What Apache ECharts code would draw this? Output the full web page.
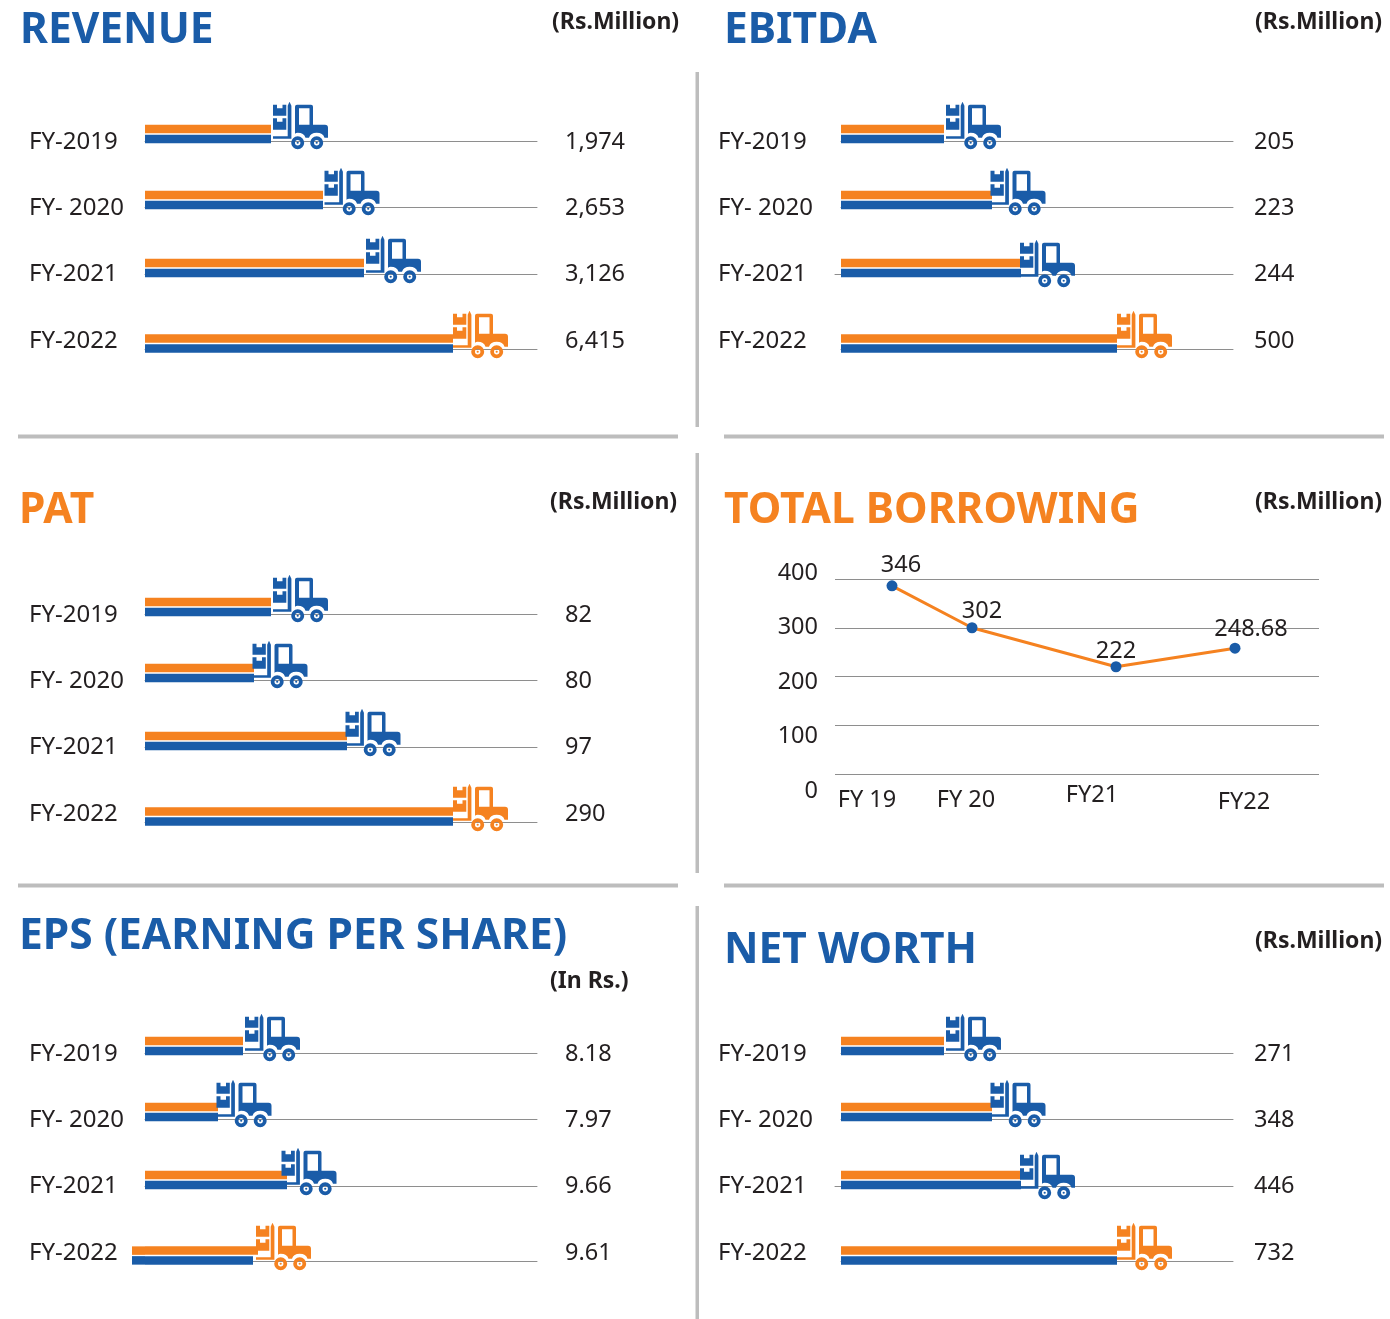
<!DOCTYPE html>
<html>
<head>
<meta charset="utf-8">
<title>Financial highlights</title>
<style>
  html, body { margin: 0; padding: 0; background: #fff; }
  #main { width: 1390px; height: 1319px; }
</style>
<script src="https://cdn.jsdelivr.net/npm/echarts@6/dist/echarts.min.js"></script>
</head>
<body>
<div id="main"></div>
<script>
// row labels and printed figures
const years = ['FY-2019', 'FY- 2020', 'FY-2021', 'FY-2022']
const revenueLabels = ['1,974', '2,653', '3,126', '6,415']
const ebitdaLabels = ['205', '223', '244', '500']
const patLabels = ['82', '80', '97', '290']
const epsLabels = ['8.18', '7.97', '9.66', '9.61']
const netWorthLabels = ['271', '348', '446', '732']

// bar lengths as drawn in the picture (they are not in proportion to the figures)
const revenueOrange = [126, 178, 219, 308]
const revenueBlue = [126, 178, 219, 308]
const ebitdaOrange = [103, 151, 180, 276]
const ebitdaBlue = [103, 151, 180, 276]
const patOrange = [126, 109, 202, 308]
const patBlue = [126, 109, 202, 308]
const epsOrange = [98, 73, 142, 113]
const epsBlue = [98, 73, 142, 108]
const epsTail = [0, 0, 0, -13]
const netWorthOrange = [103, 151, 180, 276]
const netWorthBlue = [103, 151, 180, 276]

// total borrowing
const borrowingTicks = ['FY 19', 'FY 20', 'FY21', 'FY22']
const borrowingTickAt = [32, 131, 257, 409]
const borrowingAt = [57, 137, 281, 400]
const borrowingDrawn = [386, 300, 220, 258]
const borrowingLabels = ['346', '302', '222', '248.68']

const BLUE = '#1a5ca8'
const ORANGE = '#f58220'
const INK = '#231f20'
const RULE = '#8e8e8e'
const DIVIDER = '#bdbdbd'
const FONT = '"Noto Sans", sans-serif'

function circle(cx, cy, r, sweep) {
  return `M${cx - r} ${cy}A${r} ${r} 0 1 ${sweep} ${cx + r} ${cy}A${r} ${r} 0 1 ${sweep} ${cx - r} ${cy}Z`
}
function wheel(cx) {
  return circle(cx, 41, 6.5, 1) + circle(cx, 41, 2.7, 0) + circle(cx, 41, 1.1, 1)
}
// forklift icon, 55 x 47.5
const truck = 'path://' +
  'M0 3L4 3L4 6.5L9.5 6.5L9.5 3L13.3 3L13.3 14L0 14Z' +
  'M0 16.5L4 16.5L4 20L9.5 20L9.5 16.5L13.3 16.5L13.3 28L0 28Z' +
  'M0 34.5L14.7 34.5L14.7 4L16.5 0L18.4 4L18.4 37L0 37Z' +
  'M22 5Q22 3 24 3L38 3Q40 3 40 5L40 23L52 23Q55 23 55 26L55 36L51.5 36' +
  'Q50 31 43.7 31Q37.5 31 36 36L32.5 36Q31 31 24.7 31Q23 31 22 32Z' +
  'M26 6.5L26 23L36.5 23L36.5 6.5Z' +
  wheel(24.7) + wheel(43.7)

const rowCenter = [134, 200, 268, 343.5]
const rowRule = [141, 207, 274, 349.5]
const rowText = [142, 208, 274, 341]

const panels = [
  { left: 145, textLeft: 29, drop: 0, labels: revenueLabels, orange: revenueOrange, blue: revenueBlue, gap: [29.5, 29, 29.5, 27.5] },
  { left: 841, textLeft: 718, drop: 0, right: true, labels: ebitdaLabels, orange: ebitdaOrange, blue: ebitdaBlue, gap: [29.5, 26, 26.5, 27.5] },
  { left: 145, textLeft: 29, drop: 473, labels: patLabels, orange: patOrange, blue: patBlue, gap: [29.5, 26, 26, 27.5] },
  { left: 145, textLeft: 29, drop: 912, labels: epsLabels, orange: epsOrange, blue: epsBlue, tail: epsTail, gap: [29.5, 26, 22, 25.5] },
  { left: 841, textLeft: 718, drop: 912, right: true, labels: netWorthLabels, orange: netWorthOrange, blue: netWorthBlue, gap: [29.5, 26, 26.5, 27.5] }
]

const heads = [
  { text: 'REVENUE', left: 20, y: 31, color: BLUE },
  { text: 'EBITDA', left: 724, y: 31, color: BLUE },
  { text: 'PAT', left: 19, y: 511, color: ORANGE },
  { text: 'TOTAL BORROWING', left: 724, y: 511, color: ORANGE },
  { text: 'EPS (EARNING PER SHARE)', left: 19, y: 937, color: BLUE },
  { text: 'NET WORTH', left: 724, y: 951, color: BLUE }
]
const units = [
  { text: '(Rs.Million)', left: 552, y: 22 },
  { text: '(Rs.Million)', left: 1255, y: 22 },
  { text: '(Rs.Million)', left: 550, y: 502 },
  { text: '(Rs.Million)', left: 1255, y: 502 },
  { text: '(In Rs.)', left: 550, y: 981 },
  { text: '(Rs.Million)', left: 1255, y: 941 }
]

const title = []
heads.forEach((h) => {
  title.push({
    text: h.text, left: h.left, top: h.y, padding: 0, textVerticalAlign: 'middle',
    textStyle: { fontFamily: FONT, fontWeight: 700, fontSize: 42.5, color: h.color }
  })
})
units.forEach((u) => {
  title.push({
    text: u.text, left: u.left, top: u.y, padding: 0, textVerticalAlign: 'middle',
    textStyle: { fontFamily: FONT, fontWeight: 700, fontSize: 23, color: INK }
  })
})

const grid = []
const xAxis = []
const yAxis = []
const series = []

panels.forEach((p) => {
  years.forEach((year, r) => {
    const gi = grid.length
    const half = rowRule[r] - rowCenter[r]
    // the right hand panels have a small stub of rule in front of the third bar
    const stub = p.right && r === 2 ? 6 : 0
    const gridLeft = p.left - stub
    const shift = 2 * (rowText[r] - rowCenter[r])
    const pad = shift >= 0 ? [shift, 0, 0, 0] : [0, 0, -shift, 0]
    grid.push({ left: gridLeft, top: p.drop + rowCenter[r] - half, width: 392 + stub, height: half * 2 })
    xAxis.push({
      gridIndex: gi, type: 'value', min: -stub, max: 392,
      axisLine: { show: true, lineStyle: { color: RULE, width: 1 } },
      axisTick: { show: false }, axisLabel: { show: false }, splitLine: { show: false }
    })
    yAxis.push({
      gridIndex: gi, type: 'category', inverse: true, data: [year],
      axisLine: { show: false }, axisTick: { show: false },
      axisLabel: {
        align: 'left', margin: gridLeft - p.textLeft, formatter: (v) => '{t|' + v + '}',
        rich: { t: { fontFamily: FONT, fontSize: 24, color: INK, padding: pad } }
      }
    })
    const yRight = yAxis.length
    yAxis.push({
      gridIndex: gi, type: 'category', inverse: true, position: 'right', data: [p.labels[r]],
      axisLine: { show: false }, axisTick: { show: false },
      axisLabel: {
        align: 'left', margin: p.right ? 21 : 28, formatter: (v) => '{t|' + v + '}',
        rich: { t: { fontFamily: FONT, fontSize: 23.5, color: INK, padding: pad } }
      }
    })
    const yLeft = yRight - 1
    const bar = { type: 'bar', xAxisIndex: gi, yAxisIndex: yLeft, barWidth: 8.5, barGap: '15%', clip: false, silent: true }
    const tail = p.tail && p.tail[r]
    series.push({ ...bar, stack: 'o' + gi, data: [p.orange[r]], itemStyle: { color: ORANGE } })
    if (tail) series.push({ ...bar, stack: 'o' + gi, data: [tail], itemStyle: { color: ORANGE } })
    series.push({ ...bar, stack: 'b' + gi, data: [p.blue[r]], itemStyle: { color: BLUE } })
    if (tail) series.push({ ...bar, stack: 'b' + gi, data: [tail], itemStyle: { color: BLUE } })

    const tucked = p.right && r === 2
    const last = r === 3
    series.push({
      type: 'scatter', xAxisIndex: gi, yAxisIndex: yLeft, clip: false, silent: true, z: 5,
      symbol: truck, symbolSize: [55, 47.5],
      symbolOffset: [p.gap[r], tucked ? -4.5 : last ? -9 : -8.5],
      itemStyle: { color: last ? ORANGE : BLUE, opacity: 1 },
      data: [[p.orange[r], year]]
    })
  })
})

// total borrowing: chart with gridlines
const lineGrid = grid.length
grid.push({ left: 835, top: 579, width: 484, height: 195 })
xAxis.push({
  gridIndex: lineGrid, type: 'value', min: 0, max: 484,
  axisLine: { show: false }, axisTick: { show: false }, splitLine: { show: false },
  axisLabel: {
    customValues: borrowingTickAt, margin: 9,
    formatter: (v) => {
      const name = borrowingTicks[borrowingTickAt.indexOf(v)]
      return name === 'FY21' ? '{up|' + name + '}' : name === 'FY22' ? '{dn|' + name + '}' : '{mid|' + name + '}'
    },
    rich: {
      up: { fontFamily: FONT, fontSize: 23.5, color: INK },
      mid: { fontFamily: FONT, fontSize: 23.5, color: INK, padding: [5, 0, 0, 0] },
      dn: { fontFamily: FONT, fontSize: 23.5, color: INK, padding: [7, 0, 0, 0] }
    }
  }
})
const lineY = yAxis.length
yAxis.push({
  gridIndex: lineGrid, type: 'value', min: 0, max: 400, interval: 100,
  axisLine: { show: false }, axisTick: { show: false }, axisLabel: { show: false },
  splitLine: { lineStyle: { color: RULE, width: 1 } }
})
// the printed scale is spaced wider than the gridlines, so it gets its own grid
const scaleGrid = grid.length
grid.push({ left: 835, top: 573, width: 484, height: 218 })
xAxis.push({ gridIndex: scaleGrid, type: 'value', show: false })
yAxis.push({
  gridIndex: scaleGrid, type: 'value', min: 0, max: 400, interval: 100,
  axisLine: { show: false }, axisTick: { show: false }, splitLine: { show: false },
  axisLabel: { margin: 17, fontFamily: FONT, fontSize: 23.5, color: INK }
})
const labelShift = [[9, 2], [10, 6], [0, 7], [16, 4]]
series.push({
  type: 'line', xAxisIndex: lineGrid, yAxisIndex: lineY, silent: true, z: 4,
  symbol: 'circle', symbolSize: 11,
  lineStyle: { color: ORANGE, width: 3 },
  itemStyle: { color: BLUE },
  label: { show: true, position: 'top', fontFamily: FONT, fontSize: 23.5, color: INK },
  data: borrowingDrawn.map((v, i) => ({
    value: [borrowingAt[i], v],
    label: { formatter: borrowingLabels[i], offset: labelShift[i] }
  }))
})

// section dividers
const dividers = [
  [18, 434.5, 660, 4], [724, 434.5, 660, 4],
  [18, 883.5, 660, 4], [724, 883.5, 660, 4],
  [695.5, 72, 3.5, 355], [695.5, 453, 3.5, 420], [695.5, 906, 3.5, 413]
]
const graphic = dividers.map((d) => ({
  type: 'rect', silent: true,
  shape: { x: d[0], y: d[1], width: d[2], height: d[3] },
  style: { fill: DIVIDER }
}))

const chart = echarts.init(document.getElementById('main'), null, { renderer: 'canvas' })
chart.setOption({
  animation: false,
  backgroundColor: '#fff',
  title, grid, xAxis, yAxis, series, graphic
})
</script>
</body>
</html>
